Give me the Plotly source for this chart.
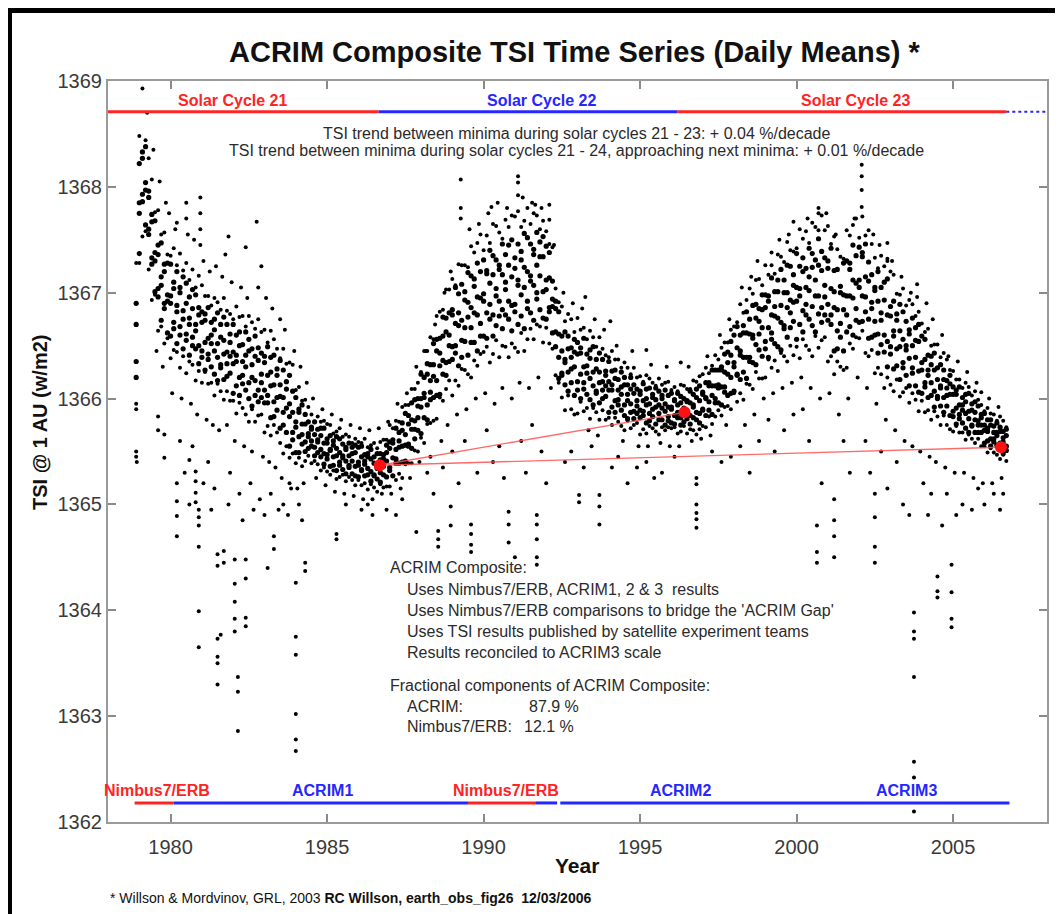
import plotly.graph_objects as go

# ---------------- data ----------------
years = [1978.9,
 1979.0,1979.1,1979.2,1979.3,1979.4,1979.5,1979.6,1979.7,1979.8,1979.9,
 1980.0,1980.1,1980.2,1980.3,1980.4,1980.5,1980.6,1980.7,1980.8,1980.9,
 1981.0,1981.1,1981.2,1981.3,1981.4,1981.5,1981.6,1981.7,1981.8,1981.9,
 1982.0,1982.1,1982.2,1982.3,1982.4,1982.5,1982.6,1982.7,1982.8,1982.9,
 1983.0,1983.1,1983.2,1983.3,1983.4,1983.5,1983.6,1983.7,1983.8,1983.9,
 1984.0,1984.1,1984.2,1984.3,1984.4,1984.5,1984.6,1984.7,1984.8,1984.9,
 1985.0,1985.1,1985.2,1985.3,1985.4,1985.5,1985.6,1985.7,1985.8,1985.9,
 1986.0,1986.1,1986.2,1986.3,1986.4,1986.5,1986.6,1986.7,1986.8,1986.9,
 1987.0,1987.1,1987.2,1987.3,1987.4,1987.5,1987.6,1987.7,1987.8,1987.9,
 1988.0,1988.1,1988.2,1988.3,1988.4,1988.5,1988.6,1988.7,1988.8,1988.9,
 1989.0,1989.1,1989.2,1989.3,1989.4,1989.5,1989.6,1989.7,1989.8,1989.9,
 1990.0,1990.1,1990.2,1990.3,1990.4,1990.5,1990.6,1990.7,1990.8,1990.9,
 1991.0,1991.1,1991.2,1991.3,1991.4,1991.5,1991.6,1991.7,1991.8,1991.9,
 1992.0,1992.1,1992.2,1992.3,1992.4,1992.5,1992.6,1992.7,1992.8,1992.9,
 1993.0,1993.1,1993.2,1993.3,1993.4,1993.5,1993.6,1993.7,1993.8,1993.9,
 1994.0,1994.1,1994.2,1994.3,1994.4,1994.5,1994.6,1994.7,1994.8,1994.9,
 1995.0,1995.1,1995.2,1995.3,1995.4,1995.5,1995.6,1995.7,1995.8,1995.9,
 1996.0,1996.1,1996.2,1996.3,1996.4,1996.5,1996.6,1996.7,1996.8,1996.9,
 1997.0,1997.1,1997.2,1997.3,1997.4,1997.5,1997.6,1997.7,1997.8,1997.9,
 1998.0,1998.1,1998.2,1998.3,1998.4,1998.5,1998.6,1998.7,1998.8,1998.9,
 1999.0,1999.1,1999.2,1999.3,1999.4,1999.5,1999.6,1999.7,1999.8,1999.9,
 2000.0,2000.1,2000.2,2000.3,2000.4,2000.5,2000.6,2000.7,2000.8,2000.9,
 2001.0,2001.1,2001.2,2001.3,2001.4,2001.5,2001.6,2001.7,2001.8,2001.9,
 2002.0,2002.1,2002.2,2002.3,2002.4,2002.5,2002.6,2002.7,2002.8,2002.9,
 2003.0,2003.1,2003.2,2003.3,2003.4,2003.5,2003.6,2003.7,2003.8,2003.9,
 2004.0,2004.1,2004.2,2004.3,2004.4,2004.5,2004.6,2004.7,2004.8,2004.9,
 2005.0,2005.1,2005.2,2005.3,2005.4,2005.5,2005.6,2005.7,2005.8,2005.9,
 2006.0,2006.1,2006.2,2006.3,2006.4,2006.5,2006.6,2006.7]

# six samples of the daily cloud per 0.1 yr, from the lower edge (b0) to the upper edge (b5)
tsi_b0 = [1365.95,
 1367.28,1367.53,1367.58,1367.22,1366.93,1366.98,1366.64,1366.68,1366.52,1366.57,
 1366.38,1366.46,1366.44,1366.29,1366.4,1366.24,1366.35,1366.32,1366.17,1366.26,
 1366.15,1366.25,1366.14,1366.15,1366.03,1366.14,1366.07,1365.99,1366.07,1365.98,
 1365.98,1365.86,1365.96,1365.91,1365.85,1365.78,1365.9,1365.78,1365.84,1365.85,
 1365.68,1365.74,1365.65,1365.75,1365.68,1365.58,1365.48,1365.55,1365.44,1365.48,
 1365.39,1365.44,1365.36,1365.41,1365.46,1365.39,1365.41,1365.38,1365.32,1365.35,
 1365.31,1365.28,1365.32,1365.24,1365.26,1365.28,1365.22,1365.26,1365.23,1365.18,
 1365.23,1365.18,1365.2,1365.14,1365.19,1365.16,1365.12,1365.19,1365.16,1365.17,
 1365.17,1365.27,1365.23,1365.29,1365.25,1365.38,1365.39,1365.39,1365.51,1365.5,
 1365.63,1365.58,1365.76,1365.77,1365.79,1365.81,1366.01,1365.98,1366.09,1366.17,
 1366.03,1366.17,1366.12,1366.28,1366.27,1366.23,1366.2,1366.36,1366.31,1366.42,
 1366.44,1366.49,1366.34,1366.42,1366.55,1366.39,1366.5,1366.49,1366.39,1366.52,
 1366.48,1366.44,1366.62,1366.45,1366.56,1366.66,1366.56,1366.7,1366.68,1366.53,
 1366.67,1366.52,1366.47,1366.22,1366.15,1366.01,1365.89,1366.03,1365.9,1365.85,
 1365.86,1365.97,1365.88,1365.91,1365.81,1365.91,1365.87,1365.8,1365.89,1365.8,
 1365.82,1365.75,1365.82,1365.78,1365.74,1365.7,1365.79,1365.72,1365.75,1365.77,
 1365.66,1365.71,1365.67,1365.74,1365.72,1365.69,1365.66,1365.73,1365.7,1365.73,
 1365.72,1365.73,1365.67,1365.69,1365.74,1365.67,1365.71,1365.7,1365.66,1365.71,
 1365.74,1365.73,1365.83,1365.76,1365.83,1365.89,1365.84,1365.92,1365.93,1365.9,
 1366.05,1365.97,1366.05,1365.99,1366.14,1366.13,1366.09,1366.25,1366.19,1366.19,
 1366.2,1366.37,1366.29,1366.36,1366.26,1366.43,1366.4,1366.35,1366.5,1366.41,
 1366.49,1366.38,1366.56,1366.5,1366.46,1366.4,1366.59,1366.48,1366.55,1366.58,
 1366.35,1366.4,1366.23,1366.35,1366.3,1366.27,1366.29,1366.52,1366.47,1366.58,
 1366.57,1366.64,1366.43,1366.4,1366.46,1366.24,1366.29,1366.23,1366.1,1366.2,
 1366.13,1366.07,1366.18,1366.02,1366.06,1366.1,1365.96,1366.05,1365.99,1365.88,
 1365.98,1365.87,1365.89,1365.8,1365.88,1365.83,1365.75,1365.84,1365.75,1365.71,
 1365.69,1365.74,1365.68,1365.68,1365.61,1365.66,1365.62,1365.58,1365.62,1365.55,
 1365.55,1365.49,1365.53,1365.49,1365.47,1365.43,1365.47,1365.41]

tsi_b1 = [1366.2,
 1367.37,1367.86,1367.64,1367.55,1367.27,1367.01,1366.96,1366.74,1366.85,1366.62,
 1366.59,1366.66,1366.52,1366.6,1366.47,1366.55,1366.41,1366.5,1366.47,1366.33,
 1366.39,1366.27,1366.37,1366.3,1366.23,1366.17,1366.29,1366.18,1366.21,1366.24,
 1366.05,1366.12,1366.03,1366.14,1366.08,1366.0,1365.93,1366.03,1365.97,1366.01,
 1365.96,1365.96,1365.82,1365.83,1365.89,1365.72,1365.75,1365.68,1365.55,1365.61,
 1365.49,1365.49,1365.57,1365.5,1365.53,1365.55,1365.46,1365.49,1365.45,1365.38,
 1365.43,1365.36,1365.37,1365.32,1365.37,1365.33,1365.29,1365.35,1365.29,1365.27,
 1365.26,1365.32,1365.27,1365.28,1365.22,1365.27,1365.24,1365.21,1365.28,1365.26,
 1365.32,1365.27,1365.39,1365.39,1365.4,1365.41,1365.55,1365.53,1365.62,1365.7,
 1365.67,1365.82,1365.8,1365.99,1366.01,1366.03,1366.04,1366.23,1366.22,1366.35,
 1366.37,1366.43,1366.31,1366.39,1366.54,1366.41,1366.53,1366.53,1366.45,1366.59,
 1366.59,1366.57,1366.75,1366.59,1366.69,1366.78,1366.66,1366.79,1366.75,1366.64,
 1366.82,1366.7,1366.78,1366.66,1366.85,1366.81,1366.74,1366.94,1366.84,1366.76,
 1366.75,1366.82,1366.62,1366.49,1366.19,1366.22,1366.13,1366.07,1366.15,1366.03,
 1366.08,1366.0,1366.09,1366.04,1365.99,1365.94,1366.05,1365.96,1366.0,1366.02,
 1365.87,1365.92,1365.87,1365.94,1365.89,1365.84,1365.81,1365.87,1365.81,1365.86,
 1365.82,1365.84,1365.77,1365.79,1365.83,1365.76,1365.8,1365.8,1365.75,1365.79,
 1365.77,1365.76,1365.82,1365.75,1365.78,1365.81,1365.76,1365.82,1365.8,1365.77,
 1365.89,1365.84,1365.89,1365.85,1365.96,1365.96,1365.94,1366.06,1366.03,1366.05,
 1366.07,1366.22,1366.18,1366.25,1366.19,1366.35,1366.34,1366.32,1366.46,1366.4,
 1366.47,1366.39,1366.56,1366.52,1366.49,1366.46,1366.66,1366.58,1366.67,1366.73,
 1366.56,1366.7,1366.63,1366.79,1366.75,1366.69,1366.63,1366.8,1366.72,1366.79,
 1366.74,1366.7,1366.45,1366.47,1366.58,1366.45,1366.63,1366.68,1366.6,1366.74,
 1366.72,1366.73,1366.82,1366.57,1366.58,1366.6,1366.43,1366.51,1366.44,1366.3,
 1366.42,1366.28,1366.31,1366.18,1366.29,1366.22,1366.12,1366.24,1366.12,1366.06,
 1366.05,1366.11,1366.01,1366.03,1365.92,1366.0,1365.93,1365.87,1365.93,1365.84,
 1365.83,1365.76,1365.81,1365.77,1365.72,1365.68,1365.74,1365.68,1365.68,1365.68,
 1365.58,1365.6,1365.55,1365.59,1365.56,1365.52,1365.48,1365.51]

tsi_b2 = [1366.35,
 1367.75,1367.93,1367.97,1367.6,1367.33,1367.3,1367.04,1367.07,1366.9,1366.92,
 1366.9,1366.72,1366.82,1366.68,1366.75,1366.61,1366.7,1366.58,1366.64,1366.5,
 1366.45,1366.53,1366.42,1366.52,1366.45,1366.39,1366.32,1366.42,1366.33,1366.4,
 1366.33,1366.35,1366.2,1366.22,1366.3,1366.15,1366.2,1366.17,1366.08,1366.15,
 1366.08,1366.03,1366.12,1365.97,1366.01,1366.02,1365.87,1365.91,1365.83,1365.68,
 1365.73,1365.64,1365.66,1365.59,1365.64,1365.6,1365.54,1365.59,1365.52,1365.48,
 1365.47,1365.51,1365.45,1365.46,1365.4,1365.44,1365.41,1365.37,1365.41,1365.36,
 1365.37,1365.33,1365.38,1365.34,1365.31,1365.28,1365.34,1365.3,1365.36,1365.41,
 1365.35,1365.44,1365.43,1365.54,1365.55,1365.56,1365.57,1365.71,1365.71,1365.82,
 1365.92,1366.01,1365.94,1366.06,1366.21,1366.17,1366.31,1366.36,1366.34,1366.5,
 1366.49,1366.5,1366.69,1366.55,1366.67,1366.77,1366.67,1366.81,1366.79,1366.71,
 1366.92,1366.81,1366.89,1366.79,1366.97,1366.92,1366.84,1367.03,1366.92,1366.88,
 1366.89,1367.07,1366.98,1367.05,1366.92,1367.11,1367.07,1367.0,1367.16,1367.01,
 1367.03,1366.86,1366.87,1366.63,1366.39,1366.24,1366.34,1366.25,1366.28,1366.3,
 1366.16,1366.23,1366.15,1366.24,1366.19,1366.12,1366.07,1366.15,1366.08,1366.12,
 1366.08,1366.08,1365.98,1365.99,1366.04,1365.94,1365.98,1365.95,1365.88,1365.93,
 1365.89,1365.88,1365.94,1365.86,1365.9,1365.92,1365.86,1365.91,1365.88,1365.83,
 1365.9,1365.84,1365.87,1365.82,1365.89,1365.86,1365.84,1365.92,1365.87,1365.86,
 1365.9,1366.0,1365.97,1366.03,1366.0,1366.1,1366.11,1366.11,1366.23,1366.2,
 1366.3,1366.23,1366.41,1366.39,1366.39,1366.39,1366.57,1366.51,1366.61,1366.67,
 1366.54,1366.67,1366.62,1366.78,1366.76,1366.72,1366.69,1366.86,1366.81,1366.91,
 1366.92,1366.97,1366.83,1366.89,1367.02,1366.87,1366.97,1366.97,1366.86,1366.96,
 1366.89,1366.79,1366.86,1366.64,1366.71,1366.84,1366.79,1366.97,1366.95,1366.85,
 1367.05,1366.97,1366.96,1366.75,1366.85,1366.73,1366.61,1366.74,1366.6,1366.54,
 1366.49,1366.59,1366.47,1366.49,1366.34,1366.46,1366.38,1366.29,1366.39,1366.26,
 1366.27,1366.15,1366.22,1366.15,1366.07,1366.02,1366.1,1366.01,1366.03,1366.04,
 1365.88,1365.91,1365.85,1365.89,1365.86,1365.81,1365.75,1365.8,1365.75,1365.75,
 1365.7,1365.69,1365.62,1365.62,1365.65,1365.58,1365.59,1365.55]

tsi_b3 = [1366.7,
 1367.85,1368.27,1368.04,1367.9,1367.67,1367.38,1367.36,1367.15,1367.2,1366.98,
 1366.97,1367.04,1366.88,1367.0,1366.83,1366.9,1366.76,1366.85,1366.7,1366.79,
 1366.72,1366.74,1366.57,1366.6,1366.65,1366.52,1366.58,1366.55,1366.44,1366.53,
 1366.44,1366.41,1366.5,1366.35,1366.41,1366.45,1366.32,1366.4,1366.36,1366.23,
 1366.34,1366.22,1366.25,1366.13,1366.22,1366.13,1366.01,1366.09,1365.95,1365.87,
 1365.78,1365.87,1365.76,1365.76,1365.67,1365.71,1365.66,1365.61,1365.65,1365.58,
 1365.58,1365.52,1365.56,1365.53,1365.49,1365.46,1365.52,1365.46,1365.48,1365.49,
 1365.4,1365.45,1365.41,1365.45,1365.43,1365.39,1365.36,1365.42,1365.43,1365.49,
 1365.53,1365.58,1365.52,1365.6,1365.7,1365.66,1365.76,1365.8,1365.79,1365.93,
 1366.0,1366.05,1366.23,1366.17,1366.32,1366.45,1366.43,1366.59,1366.63,1366.6,
 1366.79,1366.71,1366.81,1366.74,1366.93,1366.91,1366.86,1367.06,1366.96,1366.95,
 1366.99,1367.18,1367.09,1367.17,1367.04,1367.22,1367.17,1367.1,1367.26,1367.15,
 1367.23,1367.12,1367.31,1367.24,1367.2,1367.16,1367.36,1367.26,1367.34,1367.34,
 1367.12,1367.14,1366.94,1366.85,1366.61,1366.45,1366.37,1366.47,1366.39,1366.44,
 1366.42,1366.43,1366.3,1366.31,1366.38,1366.25,1366.28,1366.25,1366.16,1366.22,
 1366.16,1366.13,1366.19,1366.08,1366.11,1366.13,1366.04,1366.09,1366.05,1365.98,
 1366.04,1365.98,1366.0,1365.95,1366.01,1365.99,1365.94,1366.0,1365.95,1365.92,
 1365.92,1365.98,1365.94,1365.96,1365.91,1365.97,1365.96,1365.94,1366.01,1365.98,
 1366.04,1366.01,1366.12,1366.12,1366.12,1366.13,1366.27,1366.25,1366.34,1366.41,
 1366.34,1366.48,1366.45,1366.62,1366.62,1366.61,1366.6,1366.76,1366.73,1366.84,
 1366.86,1366.92,1366.79,1366.87,1367.01,1366.88,1367.0,1367.0,1366.93,1367.07,
 1367.05,1367.04,1367.2,1367.05,1367.15,1367.24,1367.12,1367.26,1367.21,1367.07,
 1367.23,1367.04,1367.01,1366.84,1367.0,1366.98,1366.97,1367.22,1367.12,1367.09,
 1367.12,1367.34,1367.15,1367.11,1366.91,1367.02,1366.92,1366.81,1366.93,1366.79,
 1366.78,1366.64,1366.74,1366.64,1366.56,1366.5,1366.61,1366.5,1366.55,1366.54,
 1366.34,1366.37,1366.27,1366.32,1366.27,1366.18,1366.12,1366.18,1366.1,1366.14,
 1366.04,1366.04,1365.94,1365.94,1365.97,1365.88,1365.89,1365.87,1365.79,1365.82,
 1365.75,1365.72,1365.75,1365.68,1365.68,1365.69,1365.63,1365.65]

tsi_b4 = [1366.9,
 1368.22,1368.33,1368.38,1367.96,1367.74,1367.68,1367.45,1367.47,1367.27,1367.28,
 1367.27,1367.1,1367.2,1367.05,1367.15,1367.09,1366.96,1367.03,1366.98,1366.86,
 1366.82,1366.8,1366.86,1366.72,1366.75,1366.81,1366.7,1366.77,1366.7,1366.61,
 1366.7,1366.6,1366.63,1366.51,1366.63,1366.56,1366.47,1366.59,1366.48,1366.43,
 1366.4,1366.49,1366.39,1366.41,1366.28,1366.36,1366.27,1366.16,1366.22,1366.07,
 1366.01,1365.9,1365.94,1365.85,1365.78,1365.73,1365.78,1365.71,1365.72,1365.72,
 1365.62,1365.65,1365.6,1365.64,1365.62,1365.57,1365.54,1365.58,1365.54,1365.56,
 1365.54,1365.55,1365.47,1365.48,1365.52,1365.45,1365.48,1365.48,1365.47,1365.56,
 1365.59,1365.61,1365.72,1365.68,1365.77,1365.86,1365.84,1365.96,1365.99,1366.0,
 1366.23,1366.2,1366.33,1366.32,1366.52,1366.56,1366.57,1366.77,1366.76,1366.81,
 1366.84,1367.05,1366.99,1367.08,1367.01,1367.19,1367.16,1367.13,1367.28,1367.2,
 1367.31,1367.21,1367.4,1367.35,1367.31,1367.26,1367.46,1367.36,1367.45,1367.5,
 1367.33,1367.46,1367.39,1367.56,1367.52,1367.46,1367.41,1367.57,1367.48,1367.53,
 1367.44,1367.38,1367.11,1366.92,1366.82,1366.59,1366.63,1366.59,1366.48,1366.56,
 1366.53,1366.48,1366.57,1366.42,1366.46,1366.49,1366.37,1366.43,1366.37,1366.26,
 1366.35,1366.26,1366.27,1366.18,1366.25,1366.2,1366.13,1366.2,1366.13,1366.09,
 1366.07,1366.14,1366.09,1366.1,1366.04,1366.1,1366.07,1366.03,1366.08,1366.03,
 1366.05,1365.99,1366.05,1366.02,1366.0,1365.98,1366.07,1366.04,1366.09,1366.12,
 1366.06,1366.15,1366.15,1366.27,1366.27,1366.27,1366.3,1366.42,1366.44,1366.54,
 1366.6,1366.68,1366.6,1366.69,1366.82,1366.75,1366.88,1366.89,1366.85,1366.98,
 1366.98,1366.97,1367.14,1367.01,1367.12,1367.22,1367.12,1367.26,1367.25,1367.17,
 1367.37,1367.25,1367.33,1367.23,1367.42,1367.37,1367.31,1367.51,1367.39,1367.33,
 1367.3,1367.42,1367.21,1367.22,1367.06,1367.28,1367.3,1367.28,1367.45,1367.35,
 1367.43,1367.38,1367.46,1367.29,1367.17,1367.05,1367.2,1367.05,1367.1,1367.13,
 1366.87,1366.92,1366.8,1366.89,1366.82,1366.73,1366.65,1366.76,1366.67,1366.7,
 1366.59,1366.56,1366.41,1366.4,1366.43,1366.29,1366.32,1366.27,1366.17,1366.22,
 1366.11,1366.08,1366.11,1366.01,1366.04,1366.05,1365.95,1365.97,1365.93,1365.85,
 1365.86,1365.8,1365.8,1365.74,1365.77,1365.73,1365.69,1365.71]

tsi_b5 = [1367.28,
 1368.48,1368.93,1368.44,1368.27,1368.07,1367.76,1367.78,1367.55,1367.57,1367.36,
 1367.35,1367.42,1367.26,1367.37,1367.21,1367.28,1367.12,1367.22,1367.05,1367.16,
 1367.07,1366.97,1366.97,1366.88,1366.95,1366.91,1366.84,1366.95,1366.83,1366.8,
 1366.75,1366.87,1366.77,1366.78,1366.68,1366.78,1366.72,1366.66,1366.75,1366.63,
 1366.65,1366.53,1366.64,1366.56,1366.47,1366.38,1366.47,1366.33,1366.34,1366.32,
 1366.08,1366.11,1365.98,1365.99,1365.92,1365.85,1365.78,1365.83,1365.78,1365.79,
 1365.76,1365.75,1365.67,1365.69,1365.72,1365.64,1365.66,1365.64,1365.58,1365.62,
 1365.59,1365.58,1365.62,1365.54,1365.56,1365.58,1365.53,1365.59,1365.61,1365.61,
 1365.75,1365.72,1365.79,1365.78,1365.92,1365.94,1365.94,1366.09,1366.09,1366.15,
 1366.25,1366.45,1366.45,1366.58,1366.56,1366.78,1366.82,1366.84,1367.03,1367.03,
 1367.13,1367.07,1367.27,1367.26,1367.26,1367.24,1367.44,1367.38,1367.47,1367.55,
 1367.4,1367.54,1367.47,1367.65,1367.63,1367.57,1367.51,1367.69,1367.62,1367.73,
 1367.72,1367.77,1367.62,1367.68,1367.8,1367.65,1367.75,1367.73,1367.6,1367.68,
 1367.58,1367.46,1367.43,1367.04,1366.91,1366.87,1366.73,1366.8,1366.75,1366.63,
 1366.76,1366.65,1366.67,1366.56,1366.64,1366.58,1366.49,1366.58,1366.47,1366.41,
 1366.39,1366.45,1366.37,1366.37,1366.29,1366.34,1366.29,1366.23,1366.29,1366.2,
 1366.21,1366.16,1366.22,1366.19,1366.15,1366.12,1366.19,1366.13,1366.15,1366.16,
 1366.08,1366.11,1366.07,1366.13,1366.12,1366.09,1366.09,1366.17,1366.16,1366.21,
 1366.23,1366.29,1366.24,1366.31,1366.41,1366.37,1366.48,1366.53,1366.53,1366.65,
 1366.68,1366.72,1366.89,1366.81,1366.93,1367.04,1366.99,1367.12,1367.13,1367.07,
 1367.26,1367.17,1367.26,1367.18,1367.36,1367.34,1367.29,1367.48,1367.4,1367.39,
 1367.42,1367.6,1367.51,1367.58,1367.47,1367.66,1367.62,1367.59,1367.73,1367.59,
 1367.63,1367.46,1367.53,1367.41,1367.34,1367.32,1367.59,1367.54,1367.64,1367.7,
 1367.52,1367.72,1367.54,1367.59,1367.46,1367.33,1367.23,1367.35,1367.25,1367.32,
 1367.2,1367.17,1366.99,1366.98,1367.04,1366.88,1366.93,1366.89,1366.78,1366.82,
 1366.71,1366.63,1366.66,1366.5,1366.51,1366.51,1366.39,1366.43,1366.37,1366.27,
 1366.26,1366.18,1366.18,1366.1,1366.15,1366.11,1366.03,1366.07,1365.99,1365.94,
 1365.88,1365.91,1365.86,1365.85,1365.79,1365.83,1365.79,1365.73]

# isolated high daily values (upward spikes)
spike_years = [1979.85, 1980.2, 1980.5, 1980.5, 1980.95, 1980.95, 1980.95, 1980.95,
 1981.75, 1981.85, 1982.4, 1982.9, 1989.27, 1989.27, 1989.27, 1990.25,
 1991.1, 1991.1, 1991.1, 1991.65, 1992.1, 1992.1, 1993.25, 1994.05, 1995.2,
 1996.3, 1998.55, 1999.2, 1999.9, 2000.7, 2000.7, 2002.08, 2002.08, 2002.08,
 2002.08, 2002.9, 2002.9, 2003.85, 2003.85, 2004.85, 2005.9]
spike_tsi = [1367.85, 1367.66, 1367.85, 1367.7, 1367.9, 1367.75, 1367.6, 1367.45,
 1367.36, 1367.53, 1367.43, 1367.25, 1368.07, 1367.8, 1367.7, 1367.81,
 1368.1, 1368.04, 1367.92, 1367.83, 1367.83, 1367.69, 1366.96, 1366.73, 1366.46,
 1366.34, 1367.15, 1367.38, 1367.67, 1367.8, 1367.75, 1368.21, 1368.1, 1367.97,
 1367.81, 1367.47, 1367.3, 1367.08, 1366.96, 1366.4, 1366.06]

# deep sunspot dips (downward outliers)
dip_years = [1978.9, 1978.9, 1978.92, 1978.9,
 1979.6, 1979.6, 1979.8, 1979.8,
 1980.2, 1980.2, 1980.2, 1980.2,
 1980.6, 1980.6,
 1980.8, 1980.8, 1980.8, 1980.8,
 1980.9, 1980.9, 1980.9, 1980.9, 1980.9, 1980.9,
 1981.5, 1981.5, 1981.5, 1981.5, 1981.5, 1981.5,
 1981.6, 1981.7, 1981.7,
 1982.05, 1982.05, 1982.05, 1982.05, 1982.05,
 1982.15, 1982.15, 1982.15,
 1982.4, 1982.4, 1982.4, 1982.4,
 1983.1, 1983.3, 1983.3,
 1984.0, 1984.0, 1984.0, 1984.0, 1984.0, 1984.0,
 1984.3, 1984.3,
 1985.3, 1985.3, 1987.85, 1987.2,
 1988.55, 1988.55, 1988.55,
 1988.95, 1988.95,
 1989.6, 1989.6, 1989.6, 1989.6,
 1990.8, 1990.8, 1990.8, 1991.0,
 1991.7, 1991.7, 1991.7, 1991.7, 1991.7,
 1993.05, 1993.05, 1993.7, 1993.7, 1993.7,
 1996.8, 1996.8, 1996.8, 1996.8, 1996.8, 1996.8,
 1997.6,
 2000.65, 2000.65, 2000.65,
 2001.2, 2001.2, 2001.2, 2001.2,
 2002.5, 2002.5, 2002.5, 2002.5,
 2003.75, 2003.75, 2003.75, 2003.75, 2003.75, 2003.75, 2003.75,
 2004.5, 2004.5, 2004.5,
 2004.95, 2004.95, 2004.95, 2004.95]
dip_tsi = [1365.5, 1365.45, 1365.4, 1365.9,
 1365.83, 1365.7, 1365.66, 1365.44,
 1365.2, 1365.03, 1364.89, 1364.7,
 1365.42, 1365.0,
 1365.31, 1365.22, 1365.11, 1365.02,
 1364.95, 1364.88, 1364.8, 1364.6, 1363.99, 1363.65,
 1364.53, 1364.42, 1363.73, 1363.56, 1363.5, 1363.3,
 1363.77, 1364.56, 1364.45,
 1364.48, 1364.25, 1364.08, 1363.92, 1363.8,
 1363.37, 1363.23, 1362.86,
 1364.48, 1364.3, 1363.93, 1363.85,
 1364.4, 1364.7, 1364.58,
 1364.26, 1363.75, 1363.58, 1363.02, 1362.78, 1362.67,
 1364.45, 1364.37,
 1364.72, 1364.67, 1364.74, 1364.9,
 1364.75, 1364.67, 1364.6,
 1364.98, 1364.8,
 1364.81, 1364.72, 1364.62, 1364.55,
 1364.93, 1364.81, 1364.64, 1364.5,
 1364.9, 1364.81, 1364.67, 1364.5, 1364.43,
 1365.09, 1365.02, 1365.09, 1364.98, 1364.81,
 1365.25, 1365.19, 1365.0, 1364.92, 1364.86, 1364.78,
 1365.4,
 1364.8, 1364.55, 1364.45,
 1365.05, 1364.85, 1364.7, 1364.5,
 1365.1, 1364.88, 1364.6, 1364.45,
 1363.98, 1363.8, 1363.73, 1363.37, 1362.57, 1362.42, 1362.1,
 1364.32, 1364.18, 1364.12,
 1364.43, 1364.17, 1363.92, 1363.84]

# moderate low days scattered under the main band
scatter_years = [1980.3, 1980.45, 1980.7, 1981.05, 1981.2, 1981.3, 1981.4, 1981.85, 1981.9,
 1982.2, 1982.3, 1982.55, 1982.65, 1982.85, 1983.0, 1983.2, 1983.45, 1983.6, 1983.75,
 1983.85, 1984.1, 1984.2,
 1985.6, 1986.1, 1986.3, 1986.45, 1986.9, 1987.4,
 1988.2, 1988.4, 1988.7, 1989.0, 1989.2, 1989.4, 1989.8, 1990.1, 1990.3, 1990.5,
 1990.65, 1991.2, 1991.35, 1991.55, 1991.85, 1992.0,
 1992.6, 1992.8, 1993.2, 1993.45, 1994.1, 1994.3, 1994.6, 1994.9, 1995.2, 1995.45,
 1995.7, 1996.1,
 1997.3, 1997.9, 1998.2, 1998.5, 1998.8, 1999.1, 1999.3, 1999.6, 1999.9, 2000.2,
 2000.4, 2000.8, 2001.5, 2001.7, 2002.2, 2002.35, 2002.7, 2002.9, 2003.2, 2003.4, 2003.6,
 2004.05, 2004.2, 2004.3, 2004.65, 2004.8, 2005.1, 2005.3, 2005.6, 2005.8, 2006.0,
 2006.3, 2006.5, 2006.6]
scatter_tsi = [1365.6, 1365.3, 1365.55, 1365.2, 1365.4, 1364.95, 1365.15, 1365.0, 1365.3,
 1365.1, 1364.85, 1365.2, 1364.95, 1365.05, 1364.9, 1365.1, 1364.95, 1365.0, 1364.9,
 1365.15, 1365.0, 1364.85,
 1365.0, 1364.95, 1365.0, 1364.9, 1364.95, 1365.05,
 1365.3, 1365.1, 1365.35, 1365.5, 1365.2, 1365.6, 1365.3, 1365.7, 1365.4, 1365.55,
 1365.25, 1365.6, 1365.3, 1365.75, 1365.5, 1365.2,
 1365.4, 1365.5, 1365.35, 1365.55, 1365.35, 1365.45, 1365.2, 1365.35, 1365.4, 1365.25,
 1365.3, 1365.45,
 1365.5, 1365.45, 1365.55, 1365.3, 1365.6, 1365.8, 1365.5, 1365.7, 1365.85, 1365.9,
 1365.6, 1365.2, 1365.6, 1365.3, 1365.6, 1365.3, 1365.5, 1365.15, 1365.4, 1365.0, 1364.9,
 1365.2, 1364.9, 1365.1, 1364.8, 1365.1, 1364.9, 1365.0, 1364.95, 1365.15, 1365.0,
 1365.1, 1364.95, 1365.1]

# sparse days just outside the dense cloud (year, TSI)
tail_points = [
 (1979.25, 1368.7), (1979.45, 1368.35), (1979.55, 1366.45), (1979.65, 1368.05),
 (1979.75, 1366.3), (1979.95, 1367.75), (1980.05, 1366.05), (1980.15, 1367.6),
 (1980.35, 1366.0), (1980.55, 1367.55), (1980.65, 1365.95), (1980.75, 1367.5),
 (1980.85, 1365.85), (1981.05, 1367.3), (1981.15, 1365.8), (1981.25, 1367.2),
 (1981.35, 1365.75), (1981.45, 1367.25), (1981.55, 1365.7), (1981.65, 1367.15),
 (1981.8, 1365.75), (1981.95, 1367.1), (1982.05, 1365.6), (1982.25, 1367.05),
 (1982.35, 1365.55), (1982.45, 1366.95), (1982.6, 1365.5), (1982.75, 1367.67),
 (1982.8, 1367.05), (1982.95, 1365.45), (1983.05, 1366.95), (1983.15, 1365.4),
 (1983.25, 1366.85), (1983.35, 1365.35), (1983.5, 1366.75), (1983.55, 1365.25),
 (1983.65, 1366.65), (1983.8, 1365.2), (1983.95, 1366.45), (1984.05, 1365.15),
 (1984.15, 1366.3), (1984.25, 1365.2), (1984.35, 1366.15),
 (1984.55, 1366.0), (1984.85, 1365.9), (1985.15, 1365.85), (1985.45, 1365.8),
 (1985.75, 1365.75), (1986.05, 1365.72), (1986.35, 1365.7), (1986.65, 1365.72),
 (1986.95, 1365.78), (1987.25, 1365.95), (1987.55, 1366.05), (1987.85, 1366.3),
 (1988.15, 1366.45), (1988.45, 1366.7), (1988.75, 1367.0), (1988.95, 1367.2),
 (1984.65, 1365.25), (1984.95, 1365.18), (1985.25, 1365.12), (1985.55, 1365.1),
 (1985.85, 1365.08), (1986.15, 1365.05), (1986.45, 1365.05), (1986.75, 1365.1),
 (1987.05, 1365.1), (1987.35, 1365.15), (1987.65, 1365.25), (1987.95, 1365.4),
 (1988.3, 1365.45), (1988.65, 1365.6), (1988.85, 1365.75), (1989.15, 1365.85),
 (1989.45, 1365.9), (1989.75, 1366.0), (1990.05, 1366.05), (1990.35, 1365.95),
 (1990.6, 1366.1), (1990.9, 1366.0), (1991.15, 1366.15), (1991.45, 1366.1),
 (1991.75, 1366.2), (1992.15, 1366.1),
 (1989.55, 1367.6), (1989.85, 1367.65), (1990.15, 1367.75), (1990.45, 1367.85),
 (1990.75, 1367.8), (1991.25, 1367.9), (1991.55, 1367.85), (1991.85, 1367.8),
 (1992.25, 1367.45), (1992.55, 1367.0), (1992.85, 1366.9), (1993.15, 1366.85),
 (1993.55, 1366.75), (1993.85, 1366.65), (1994.25, 1366.5), (1994.75, 1366.45),
 (1995.35, 1366.32), (1995.85, 1366.3), (1996.55, 1366.3), (1997.15, 1366.4),
 (1997.55, 1366.6), (1997.85, 1366.75),
 (1993.35, 1365.7), (1993.65, 1365.65), (1994.45, 1365.6), (1994.95, 1365.55),
 (1995.25, 1365.55), (1995.65, 1365.58), (1995.95, 1365.55), (1996.25, 1365.55),
 (1996.65, 1365.6), (1996.95, 1365.62), (1997.25, 1365.65), (1997.75, 1365.75),
 (1998.35, 1365.75), (1998.65, 1365.85), (1998.95, 1366.0), (1999.25, 1366.05),
 (1999.55, 1366.1), (1999.85, 1366.15), (2000.15, 1366.2), (2000.45, 1366.1),
 (2000.75, 1366.0), (2001.05, 1366.05), (2001.35, 1365.85), (2001.65, 1366.0),
 (2001.95, 1366.2), (2002.25, 1366.1), (2002.55, 1365.95), (2002.85, 1365.8),
 (2003.15, 1365.7), (2003.45, 1365.6), (2003.7, 1365.55), (2003.95, 1365.5),
 (2004.25, 1365.45), (2004.45, 1365.4), (2004.75, 1365.35), (2005.05, 1365.3),
 (2005.35, 1365.3), (2005.65, 1365.25), (2005.95, 1365.2), (2006.25, 1365.2),
 (2006.55, 1365.25),
 (1998.25, 1367.05), (1998.75, 1367.3), (1999.45, 1367.5), (1999.75, 1367.55),
 (2000.35, 1367.7), (2000.95, 1367.75), (2001.25, 1367.55), (2001.85, 1367.7),
 (2002.45, 1367.55), (2002.65, 1367.45), (2003.05, 1367.3), (2003.35, 1367.15),
 (2003.65, 1367.0), (2004.15, 1366.9), (2004.35, 1366.75), (2004.65, 1366.6),
 (2005.15, 1366.35), (2005.45, 1366.25), (2005.75, 1366.15), (2006.15, 1366.0),
 (2006.45, 1365.92)]

# solar-minimum markers and trend lines
minima_years = [1986.68, 1996.42, 2006.53]
minima_tsi = [1365.37, 1365.87, 1365.54]

# solar cycle bar (top)
cycle_names = ["Solar Cycle 21", "Solar Cycle 22", "Solar Cycle 23"]
cycle_start = [1978.0, 1986.65, 1996.2]
cycle_end = [1986.65, 1996.2, 2006.7]
cycle_label_year = [1982.0, 1991.85, 2001.9]
next_cycle_start = 2006.7
next_cycle_end = 2008.0
cycle_bar_tsi = 1368.71
cycle_label_tsi = 1368.82

# instrument bar (bottom)
inst_start = [1978.85, 1980.1, 1989.5, 1991.65, 1992.45]
inst_end = [1980.1, 1989.5, 1991.65, 1992.35, 2006.8]
inst_is_nimbus = [True, False, True, False, False]
inst_names = ["Nimbus7/ERB", "ACRIM1", "Nimbus7/ERB", "ACRIM2", "ACRIM3"]
inst_label_year = [1979.55, 1984.85, 1990.7, 1996.3, 2003.5]
inst_label_nimbus = [True, False, True, False, False]
inst_bar_tsi = 1362.18
inst_label_tsi = 1362.3

x_ticks = [1980, 1985, 1990, 1995, 2000, 2005]
y_ticks = [1362, 1363, 1364, 1365, 1366, 1367, 1368, 1369]

# ---------------- styling ----------------
RED = "#ff2424"
BLUE = "#2626ff"
FONT = "Liberation Sans, Arial, sans-serif"
OFF = 8                       # page body margin of the html page
W, H = 1063 - OFF, 914 - OFF  # figure size
L, R, T, B = 100, 16, 73, 92  # margins (figure px)
PW, PH = W - L - R, H - T - B


def px(x):   # reference-screenshot x pixel -> paper
    return (x - OFF - L) / PW


def py(y):   # reference-screenshot y pixel -> paper
    return (H - B - (y - OFF)) / PH


fig = go.Figure()

# dense core of the daily cloud (drawn with slightly heavier dots)
cx, cy = [], []
for band in [tsi_b1, tsi_b2, tsi_b3, tsi_b4]:
    n = min(len(years), len(band))
    cx += years[:n]
    cy += band[:n]
fig.add_trace(go.Scatter(x=cx, y=cy, mode="markers",
                         marker=dict(size=5.2, color="black", line=dict(width=0)),
                         hoverinfo="skip"))

# edges and isolated days
xs, ys = [], []
for band in [tsi_b0, tsi_b5]:
    n = min(len(years), len(band))
    xs += years[:n]
    ys += band[:n]
for yr, vals in [(spike_years, spike_tsi), (dip_years, dip_tsi), (scatter_years, scatter_tsi)]:
    n = min(len(yr), len(vals))
    xs += yr[:n]
    ys += vals[:n]
xs += [p[0] for p in tail_points]
ys += [p[1] for p in tail_points]
fig.add_trace(go.Scatter(x=xs, y=ys, mode="markers",
                         marker=dict(size=4.0, color="black", line=dict(width=0)),
                         hoverinfo="skip"))

# trend lines between minima
for j in (1, 2):
    fig.add_trace(go.Scatter(x=[minima_years[0], minima_years[j]],
                             y=[minima_tsi[0], minima_tsi[j]], mode="lines",
                             line=dict(color="rgba(255,80,80,0.85)", width=1.3),
                             hoverinfo="skip"))
fig.add_trace(go.Scatter(x=minima_years, y=minima_tsi, mode="markers",
                         marker=dict(size=12, color="#ff1010"), hoverinfo="skip"))

# solar cycle bar
for i in range(len(cycle_start)):
    fig.add_trace(go.Scatter(x=[cycle_start[i], cycle_end[i]], y=[cycle_bar_tsi] * 2,
                             mode="lines", line=dict(color=RED if i != 1 else BLUE, width=3),
                             hoverinfo="skip"))
fig.add_trace(go.Scatter(x=[next_cycle_start, next_cycle_end], y=[cycle_bar_tsi] * 2,
                         mode="lines", line=dict(color=BLUE, width=2, dash="dot"),
                         hoverinfo="skip"))

# instrument bar
for i in range(len(inst_start)):
    fig.add_trace(go.Scatter(x=[inst_start[i], inst_end[i]], y=[inst_bar_tsi] * 2,
                             mode="lines",
                             line=dict(color=RED if inst_is_nimbus[i] else BLUE, width=3),
                             hoverinfo="skip"))

ann = []
for name, xv in zip(cycle_names, cycle_label_year):
    ann.append(dict(x=xv, y=cycle_label_tsi, xref="x", yref="y", text=f"<b>{name}</b>",
                    showarrow=False, font=dict(size=16, color=RED if "22" not in name else BLUE,
                                               family=FONT)))
for name, xv, nim in zip(inst_names, inst_label_year, inst_label_nimbus):
    ann.append(dict(x=xv, y=inst_label_tsi, xref="x", yref="y", text=f"<b>{name}</b>",
                    showarrow=False, font=dict(size=16, color=RED if nim else BLUE, family=FONT)))

TXT = "#2a2a2a"


def txt(x, y, s, size=16, anchor="left", color=TXT, bold=False, angle=0):
    ann.append(dict(x=px(x), y=py(y), xref="paper", yref="paper",
                    text=f"<b>{s}</b>" if bold else s, showarrow=False,
                    xanchor=anchor, yanchor="middle", textangle=angle,
                    font=dict(size=size, color=color, family=FONT)))


txt(575, 52, "ACRIM Composite TSI Time Series (Daily Means) *", size=29, anchor="center",
    color="#111", bold=True)
txt(576, 133, "TSI trend between minima during solar cycles 21 - 23: + 0.04 %/decade",
    anchor="center")
txt(576, 150, "TSI trend between minima during solar cycles 21 - 24, approaching next minima: + 0.01 %/decade",
    anchor="center")
txt(388, 567, "ACRIM Composite:")
txt(405, 589, "Uses Nimbus7/ERB, ACRIM1, 2 &amp; 3  results")
txt(405, 610, "Uses Nimbus7/ERB comparisons to bridge the 'ACRIM Gap'")
txt(405, 631, "Uses TSI results published by satellite experiment teams")
txt(405, 652, "Results reconciled to ACRIM3 scale")
txt(388, 685, "Fractional components of ACRIM Composite:")
txt(405, 706, "ACRIM:")
txt(527, 706, "87.9 %")
txt(405, 726, "Nimbus7/ERB:")
txt(522, 726, "12.1 %")
txt(40, 423, "TSI @ 1 AU (w/m2)", size=20, anchor="center", color="#111", bold=True, angle=-90)
txt(577, 866, "Year", size=21, anchor="center", color="#111", bold=True)
txt(108, 898, "* Willson &amp; Mordvinov, GRL, 2003 <b>RC Willson, earth_obs_fig26  12/03/2006</b>",
    size=14, color="#111")

axis_common = dict(showgrid=False, zeroline=False, showline=True, linecolor="#9a9a9a",
                   linewidth=2, mirror="ticks", ticks="inside", ticklen=8, tickwidth=1.5,
                   tickcolor="#8a8a8a", tickfont=dict(size=20, color="#3a3a3a", family=FONT))

fig.update_layout(
    width=W, height=H, margin=dict(l=L, r=R, t=T, b=B),
    paper_bgcolor="white", plot_bgcolor="white", showlegend=False,
    xaxis=dict(range=[1978, 2008], tickvals=x_ticks, ticklabelstandoff=6, **axis_common),
    yaxis=dict(range=[1362, 1369], tickvals=y_ticks, **axis_common),
    annotations=ann,
    shapes=[
        dict(type="line", xref="paper", yref="paper", x0=px(9.5), x1=px(9.5),
             y0=py(8), y1=py(930), line=dict(color="black", width=5)),
        dict(type="line", xref="paper", yref="paper", x0=px(7), x1=px(1080),
             y0=py(10.5), y1=py(10.5), line=dict(color="black", width=5)),
    ],
)

fig.write_html("out.html", config={"displayModeBar": False})
